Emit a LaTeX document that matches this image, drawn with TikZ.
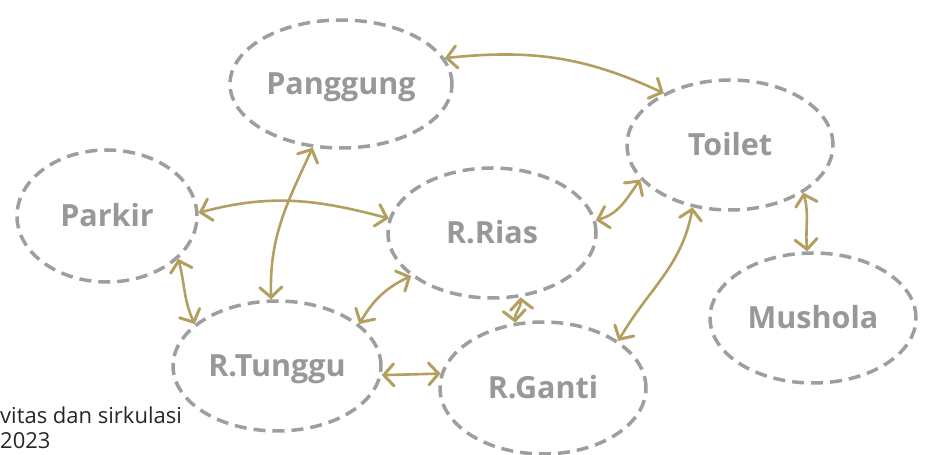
\documentclass[tikz,border=0pt]{standalone}
\usepackage{fontspec}
\setmainfont{Open Sans}
\usetikzlibrary{shapes.geometric,arrows.meta}
\definecolor{ringgray}{HTML}{9E9E9E}
\definecolor{labelgray}{HTML}{989898}
\definecolor{flowgold}{HTML}{B3A060}
\definecolor{notegray}{HTML}{262626}
\begin{document}
\begin{tikzpicture}[x=1pt,y=1pt,
  room/.style={ellipse, draw=ringgray, line width=3.5pt,
    dash pattern=on 12pt off 7pt, inner sep=0pt,
    text=labelgray, font=\fontsize{30.5}{30.5}\selectfont\bfseries,
    text height=22pt, text depth=0pt},
  flow/.style={draw=flowgold, line width=2.6pt, line cap=round,
    line join=round,
    >={Straight Barb[length=10pt,width=22pt,line width=3pt,line cap=round]}, <->},
  note/.style={anchor=base west, inner sep=0pt, text=notegray,
    font=\fontsize{22}{26}\selectfont}
]
\useasboundingbox (0,0) rectangle (930,455);

% rooms
\node[room, minimum width=222pt, minimum height=128pt] (pang)   at (341,371) {Panggung};
\node[room, minimum width=206pt, minimum height=130pt] (toilet) at (730,310) {Toilet};
\node[room, minimum width=180pt, minimum height=132pt] (parkir) at (107,239) {Parkir};
\node[room, minimum width=208pt, minimum height=130pt] (rias)   at (492,222) {R.Rias};
\node[room, minimum width=206pt, minimum height=130pt] (mush)   at (813,137) {Mushola};
\node[room, minimum width=208pt, minimum height=130pt] (tunggu) at (277,89)  {R.Tunggu};
\node[room, minimum width=206pt, minimum height=132pt] (ganti)  at (543,67)  {R.Ganti};

% circulation links
\draw[flow] (pang.14)    to[out=6,in=155]   (toilet.142);
\draw[flow] (pang.246)   to[out=-115,in=92] (tunggu.95);
\draw[flow] (parkir.2)   to[out=15,in=165]  (rias.172);
\draw[flow] (parkir.-31) to[out=-75,in=115] (tunggu.153);
\draw[flow] (tunggu.27)  to[out=60,in=205]  (rias.208);
\draw[flow] (tunggu.-5)  --                 (ganti.172);
\draw[flow] (rias.-66)   to[out=-85,in=95]  (ganti.113);
\draw[flow] (rias.7)     to[out=15,in=235]  (toilet.201);
\draw[flow] (ganti.32)   to[out=60,in=260]  (toilet.239);
\draw[flow] (toilet.-33) to[out=-75,in=95]  (mush.95);

% caption fragment
\node[note] (note1) at (0,31) {vitas dan sirkulasi};
\node[note] (note2) at (0,6)  {2023};
\end{tikzpicture}
\end{document}
